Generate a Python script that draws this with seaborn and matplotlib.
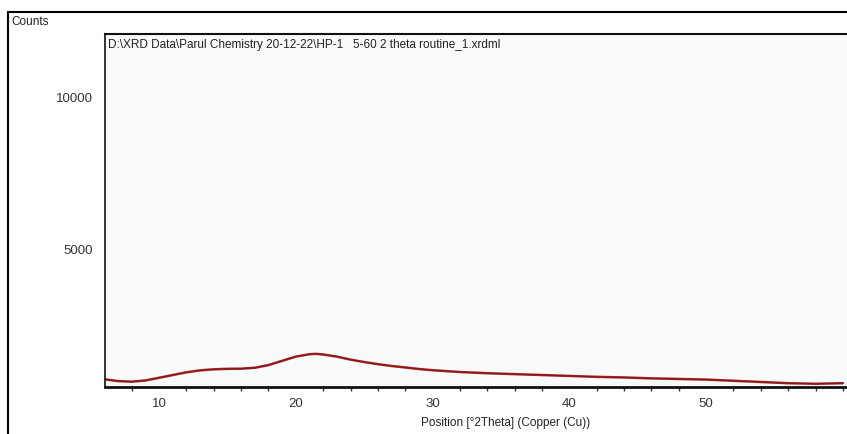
import numpy as np
import pandas as pd
import matplotlib
matplotlib.use("Agg")
import matplotlib.pyplot as plt
from matplotlib.lines import Line2D
from matplotlib.ticker import MultipleLocator
import seaborn as sns

# diffractogram (2theta in degrees, intensity in counts)
two_theta = [6, 7, 8, 9, 10, 11, 12, 13, 14, 15, 16, 17, 18, 19, 20, 21, 21.5,
             22, 23, 24, 25, 26, 27, 28, 29, 30, 32, 34, 36, 38, 40, 42, 44,
             46, 48, 50, 52, 54, 56, 58, 60]
counts = [690, 630, 610, 650, 740, 830, 920, 985, 1020, 1035, 1040, 1070, 1160,
          1300, 1440, 1520, 1530, 1510, 1440, 1340, 1260, 1190, 1130, 1080, 1030,
          990, 930, 890, 860, 830, 800, 770, 750, 720, 700, 680, 640, 600, 560,
          540, 560]
x_ticks = [10, 20, 30, 40, 50]
y_ticks = [5000, 10000]
file_label = "D:\\XRD Data\\Parul Chemistry 20-12-22\\HP-1   5-60 2 theta routine_1.xrdml"

df = pd.DataFrame({"two_theta": two_theta, "counts": counts})

sns.set_style("white")
plt.rcParams["font.family"] = ["Liberation Sans Narrow", "Liberation Sans", "DejaVu Sans"]

fig = plt.figure(figsize=(8.47, 4.34), dpi=100)
ax = fig.add_axes([0.124, 0.108, 0.876, 0.814])
ax.set_facecolor("#f9fafc")

sns.lineplot(data=df, x="two_theta", y="counts", ax=ax, color="#a82222",
             linewidth=1.8)
sns.lineplot(data=df, x="two_theta", y="counts", ax=ax, color="#3a0a0a",
             linewidth=0.5, alpha=0.5)

ax.set_xlim(6.05, 60.3)
ax.set_ylim(430, 12120)
ax.set_xticks(x_ticks)
ax.set_yticks(y_ticks)
ax.xaxis.set_minor_locator(MultipleLocator(2))
ax.tick_params(axis="both", which="major", direction="out", length=5,
               width=1, color="#333333", labelsize=9.5, labelcolor="#333333")
ax.tick_params(axis="x", which="minor", direction="out", length=3,
               width=1, color="#333333", bottom=True)
ax.tick_params(axis="x", pad=3)

for side in ["left", "bottom", "top"]:
    ax.spines[side].set_visible(True)
    ax.spines[side].set_color("#111111")
ax.spines["left"].set_linewidth(1.2)
ax.spines["bottom"].set_linewidth(2.0)
ax.spines["top"].set_linewidth(1.5)
ax.spines["right"].set_visible(False)

ax.set_xlabel("Position [°2Theta] (Copper (Cu))", fontsize=8.5, color="#222222")
ax.xaxis.set_label_coords((506 - 105) / 742, -0.085)
ax.set_ylabel("")
ax.text(0.004, 0.985, file_label, transform=ax.transAxes, fontsize=8.5,
        color="#222222", va="top", ha="left")

# outer frame of the exported image
fig.add_artist(Line2D([8 / 847, 1.0], [1 - 12 / 434, 1 - 12 / 434],
                      transform=fig.transFigure, color="black", linewidth=1.5))
fig.add_artist(Line2D([8 / 847, 8 / 847], [0, 1 - 12 / 434],
                      transform=fig.transFigure, color="black", linewidth=1.5))
fig.text(11 / 847, 1 - 22 / 434, "Counts", fontsize=8.5, color="#222222",
         va="center", ha="left")

fig.savefig("out.png", dpi=100)
